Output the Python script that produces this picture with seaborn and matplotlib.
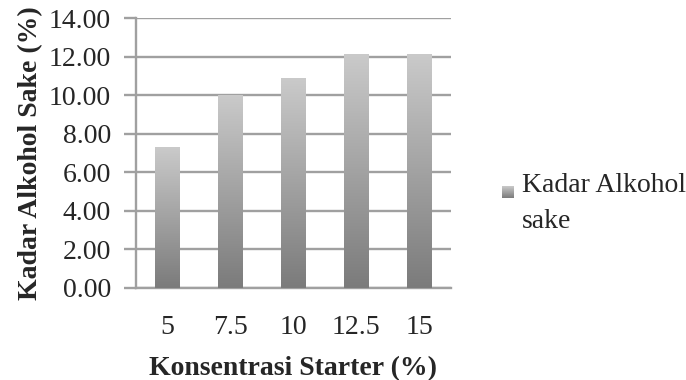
import numpy as np
import pandas as pd
import seaborn as sns
import matplotlib.pyplot as plt

# data
konsentrasi = ["5", "7.5", "10", "12.5", "15"]
kadar_alkohol = [7.31, 10.03, 10.91, 12.13, 12.13]
y_ticks = [0, 2, 4, 6, 8, 10, 12, 14]
series_name = "Kadar Alkohol\nsake"

df = pd.DataFrame({"Konsentrasi": konsentrasi, "Kadar": kadar_alkohol})

sns.set_style("white")
plt.rcParams["font.family"] = ["Liberation Serif", "DejaVu Serif"]

fig = plt.figure(figsize=(6.86, 3.8), dpi=100)
ax = fig.add_axes([0.198, 0.243, 0.459, 0.709])

grid_col = "#a0a0a0"
sns.barplot(data=df, x="Konsentrasi", y="Kadar", color="#a6a6a6", width=0.385,
            ax=ax, zorder=3)

# gradient fill on each bar (light top, dark bottom)
grad = np.linspace(0, 1, 256).reshape(-1, 1)
cmap = sns.blend_palette(["#cacaca", "#7b7b7b"], as_cmap=True)
for p in list(ax.patches):
    x0, y0 = p.get_x(), p.get_y()
    w, h = p.get_width(), p.get_height()
    im = ax.imshow(grad, cmap=cmap, aspect="auto", extent=[x0, x0 + w, y0, y0 + h],
                   origin="upper", zorder=3)
    im.set_clip_path(p)
    p.set_facecolor("none")
    p.set_edgecolor("none")

ax.set_xlim(-0.5, 4.5)
ax.set_ylim(0, 14)
ax.set_yticks(y_ticks)
ax.set_yticklabels(["%.2f" % v for v in y_ticks])

ax.yaxis.grid(True, color=grid_col, linewidth=1.7, zorder=0)
ax.set_axisbelow(True)
for s in ["top", "right"]:
    ax.spines[s].set_visible(False)
ax.spines["left"].set_color(grid_col)
ax.spines["left"].set_linewidth(1.7)
ax.spines["bottom"].set_color(grid_col)
ax.spines["bottom"].set_linewidth(1.7)

ax.tick_params(axis="y", length=9, width=1.7, color=grid_col, labelsize=20, pad=9,
               left=True)
ax.tick_params(axis="x", length=0, labelsize=20, pad=20)

ax.set_xlabel("Konsentrasi Starter (%)", fontsize=20, fontweight="bold", labelpad=11)
ax.set_ylabel("Kadar Alkohol Sake (%)", fontsize=20, fontweight="bold", labelpad=4)

# legend: small gradient square + two-line label
leg_ax = fig.add_axes([502 / 686, 1 - 198 / 380, 12 / 686, 12 / 380])
leg_ax.imshow(grad, cmap=cmap, aspect="auto", origin="upper")
leg_ax.set_axis_off()
fig.text(522 / 686, 1 - 173 / 380, series_name, fontsize=20, va="top", ha="left",
         linespacing=1.6)

fig.savefig("out.png", dpi=100)
